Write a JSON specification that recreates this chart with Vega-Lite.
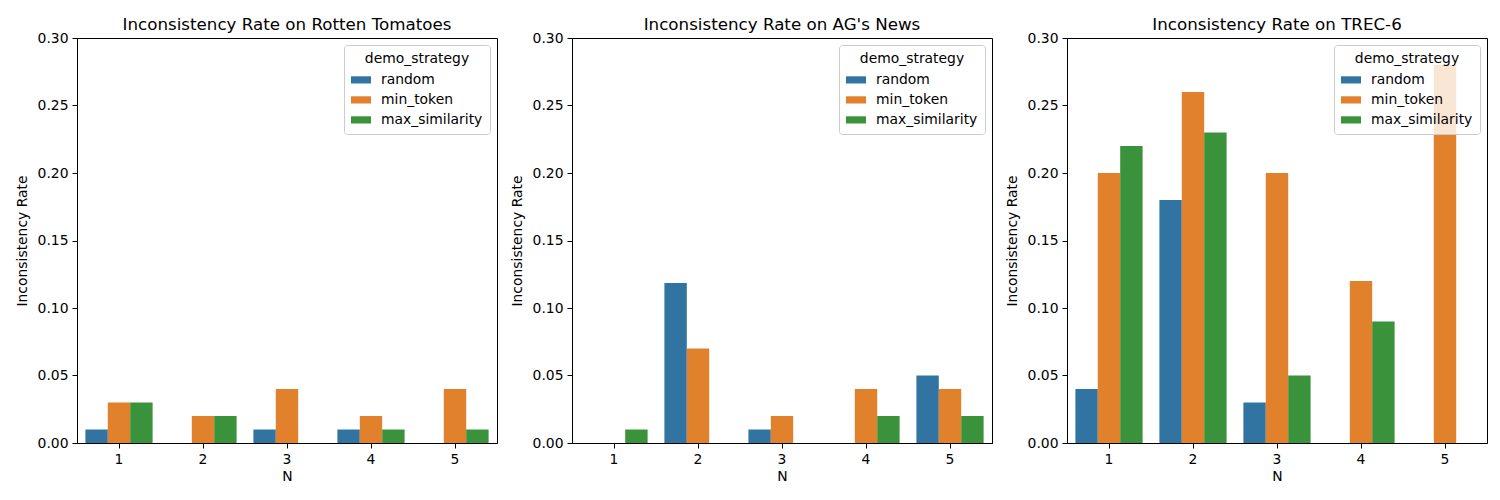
{
  "$schema": "https://vega.github.io/schema/vega-lite/v6.json",
  "background": "white",
  "padding": {"left": 14, "top": 16, "right": 10, "bottom": 10},
  "data": {
    "values": [
      {"dataset": "Rotten Tomatoes", "N": 1, "demo_strategy": "random", "rate": 0.01},
      {"dataset": "Rotten Tomatoes", "N": 1, "demo_strategy": "min_token", "rate": 0.03},
      {"dataset": "Rotten Tomatoes", "N": 1, "demo_strategy": "max_similarity", "rate": 0.03},
      {"dataset": "Rotten Tomatoes", "N": 2, "demo_strategy": "random", "rate": 0.0},
      {"dataset": "Rotten Tomatoes", "N": 2, "demo_strategy": "min_token", "rate": 0.02},
      {"dataset": "Rotten Tomatoes", "N": 2, "demo_strategy": "max_similarity", "rate": 0.02},
      {"dataset": "Rotten Tomatoes", "N": 3, "demo_strategy": "random", "rate": 0.01},
      {"dataset": "Rotten Tomatoes", "N": 3, "demo_strategy": "min_token", "rate": 0.04},
      {"dataset": "Rotten Tomatoes", "N": 3, "demo_strategy": "max_similarity", "rate": 0.0},
      {"dataset": "Rotten Tomatoes", "N": 4, "demo_strategy": "random", "rate": 0.01},
      {"dataset": "Rotten Tomatoes", "N": 4, "demo_strategy": "min_token", "rate": 0.02},
      {"dataset": "Rotten Tomatoes", "N": 4, "demo_strategy": "max_similarity", "rate": 0.01},
      {"dataset": "Rotten Tomatoes", "N": 5, "demo_strategy": "random", "rate": 0.0},
      {"dataset": "Rotten Tomatoes", "N": 5, "demo_strategy": "min_token", "rate": 0.04},
      {"dataset": "Rotten Tomatoes", "N": 5, "demo_strategy": "max_similarity", "rate": 0.01},
      {"dataset": "AG's News", "N": 1, "demo_strategy": "random", "rate": 0.0},
      {"dataset": "AG's News", "N": 1, "demo_strategy": "min_token", "rate": 0.0},
      {"dataset": "AG's News", "N": 1, "demo_strategy": "max_similarity", "rate": 0.01},
      {"dataset": "AG's News", "N": 2, "demo_strategy": "random", "rate": 0.1186},
      {"dataset": "AG's News", "N": 2, "demo_strategy": "min_token", "rate": 0.07},
      {"dataset": "AG's News", "N": 2, "demo_strategy": "max_similarity", "rate": 0.0},
      {"dataset": "AG's News", "N": 3, "demo_strategy": "random", "rate": 0.01},
      {"dataset": "AG's News", "N": 3, "demo_strategy": "min_token", "rate": 0.02},
      {"dataset": "AG's News", "N": 3, "demo_strategy": "max_similarity", "rate": 0.0},
      {"dataset": "AG's News", "N": 4, "demo_strategy": "random", "rate": 0.0},
      {"dataset": "AG's News", "N": 4, "demo_strategy": "min_token", "rate": 0.04},
      {"dataset": "AG's News", "N": 4, "demo_strategy": "max_similarity", "rate": 0.02},
      {"dataset": "AG's News", "N": 5, "demo_strategy": "random", "rate": 0.05},
      {"dataset": "AG's News", "N": 5, "demo_strategy": "min_token", "rate": 0.04},
      {"dataset": "AG's News", "N": 5, "demo_strategy": "max_similarity", "rate": 0.02},
      {"dataset": "TREC-6", "N": 1, "demo_strategy": "random", "rate": 0.04},
      {"dataset": "TREC-6", "N": 1, "demo_strategy": "min_token", "rate": 0.2},
      {"dataset": "TREC-6", "N": 1, "demo_strategy": "max_similarity", "rate": 0.22},
      {"dataset": "TREC-6", "N": 2, "demo_strategy": "random", "rate": 0.18},
      {"dataset": "TREC-6", "N": 2, "demo_strategy": "min_token", "rate": 0.26},
      {"dataset": "TREC-6", "N": 2, "demo_strategy": "max_similarity", "rate": 0.23},
      {"dataset": "TREC-6", "N": 3, "demo_strategy": "random", "rate": 0.03},
      {"dataset": "TREC-6", "N": 3, "demo_strategy": "min_token", "rate": 0.2},
      {"dataset": "TREC-6", "N": 3, "demo_strategy": "max_similarity", "rate": 0.05},
      {"dataset": "TREC-6", "N": 4, "demo_strategy": "random", "rate": 0.0},
      {"dataset": "TREC-6", "N": 4, "demo_strategy": "min_token", "rate": 0.12},
      {"dataset": "TREC-6", "N": 4, "demo_strategy": "max_similarity", "rate": 0.09},
      {"dataset": "TREC-6", "N": 5, "demo_strategy": "random", "rate": 0.0},
      {"dataset": "TREC-6", "N": 5, "demo_strategy": "min_token", "rate": 0.28},
      {"dataset": "TREC-6", "N": 5, "demo_strategy": "max_similarity", "rate": 0.0}
    ]
  },
  "bounds": "flush",
  "spacing": 75,
  "resolve": {"scale": {"color": "independent", "y": "independent", "x": "independent"}},
  "hconcat": [
    {
      "title": "Inconsistency Rate on Rotten Tomatoes",
      "width": 420,
      "height": 405,
      "transform": [{"filter": "datum.dataset === 'Rotten Tomatoes'"}],
      "mark": {"type": "bar"},
      "encoding": {
        "x": {"field": "N", "type": "ordinal", "title": "N", "scale": {"paddingInner": 0.2, "paddingOuter": 0.1}},
        "xOffset": {"field": "demo_strategy", "sort": ["random", "min_token", "max_similarity"], "scale": {"paddingInner": 0, "paddingOuter": 0}},
        "y": {"field": "rate", "type": "quantitative", "title": "Inconsistency Rate", "scale": {"domain": [0, 0.3]}, "axis": {"values": [0, 0.05, 0.1, 0.15, 0.2, 0.25, 0.3], "format": ".2f"}},
        "color": {"field": "demo_strategy", "type": "nominal", "sort": ["random", "min_token", "max_similarity"], "scale": {"domain": ["random", "min_token", "max_similarity"], "range": ["#3274a1", "#e1812c", "#3a923a"]}}
      }
    },
    {
      "title": "Inconsistency Rate on AG's News",
      "width": 420,
      "height": 405,
      "transform": [{"filter": "datum.dataset === \"AG's News\""}],
      "mark": {"type": "bar"},
      "encoding": {
        "x": {"field": "N", "type": "ordinal", "title": "N", "scale": {"paddingInner": 0.2, "paddingOuter": 0.1}},
        "xOffset": {"field": "demo_strategy", "sort": ["random", "min_token", "max_similarity"], "scale": {"paddingInner": 0, "paddingOuter": 0}},
        "y": {"field": "rate", "type": "quantitative", "title": "Inconsistency Rate", "scale": {"domain": [0, 0.3]}, "axis": {"values": [0, 0.05, 0.1, 0.15, 0.2, 0.25, 0.3], "format": ".2f"}},
        "color": {"field": "demo_strategy", "type": "nominal", "sort": ["random", "min_token", "max_similarity"], "scale": {"domain": ["random", "min_token", "max_similarity"], "range": ["#3274a1", "#e1812c", "#3a923a"]}}
      }
    },
    {
      "title": "Inconsistency Rate on TREC-6",
      "width": 420,
      "height": 405,
      "transform": [{"filter": "datum.dataset === 'TREC-6'"}],
      "mark": {"type": "bar"},
      "encoding": {
        "x": {"field": "N", "type": "ordinal", "title": "N", "scale": {"paddingInner": 0.2, "paddingOuter": 0.1}},
        "xOffset": {"field": "demo_strategy", "sort": ["random", "min_token", "max_similarity"], "scale": {"paddingInner": 0, "paddingOuter": 0}},
        "y": {"field": "rate", "type": "quantitative", "title": "Inconsistency Rate", "scale": {"domain": [0, 0.3]}, "axis": {"values": [0, 0.05, 0.1, 0.15, 0.2, 0.25, 0.3], "format": ".2f"}},
        "color": {"field": "demo_strategy", "type": "nominal", "sort": ["random", "min_token", "max_similarity"], "scale": {"domain": ["random", "min_token", "max_similarity"], "range": ["#3274a1", "#e1812c", "#3a923a"]}}
      }
    }
  ],
  "config": {
    "font": "DejaVu Sans",
    "view": {"stroke": "black", "strokeWidth": 1},
    "title": {"fontSize": 16.7, "fontWeight": "normal", "color": "black", "offset": -3},
    "axis": {
      "grid": false,
      "domainColor": "black",
      "tickColor": "black",
      "tickSize": 5,
      "labelFontSize": 13.9,
      "labelColor": "black",
      "titleFontSize": 13.9,
      "titleFontWeight": "normal",
      "titleColor": "black",
      "labelPadding": 4
    },
    "axisX": {"labelAngle": 0, "titlePadding": 4},
    "axisY": {"titlePadding": 8},
    "legend": {
      "orient": "top-right",
      "offset": 7,
      "fillColor": "rgba(255,255,255,0.8)",
      "strokeColor": "#cccccc",
      "cornerRadius": 3,
      "padding": 7,
      "titleFontSize": 13.9,
      "titleFontWeight": "normal",
      "titleColor": "black",
      "titleAnchor": "middle",
      "titlePadding": 4,
      "labelFontSize": 13.9,
      "labelColor": "black",
      "symbolType": "M-1,-0.36L1,-0.36L1,0.36L-1,0.36Z",
      "symbolSize": 400,
      "symbolStrokeWidth": 0,
      "symbolOpacity": 1,
      "rowPadding": 3,
      "labelOffset": 10
    }
  }
}
